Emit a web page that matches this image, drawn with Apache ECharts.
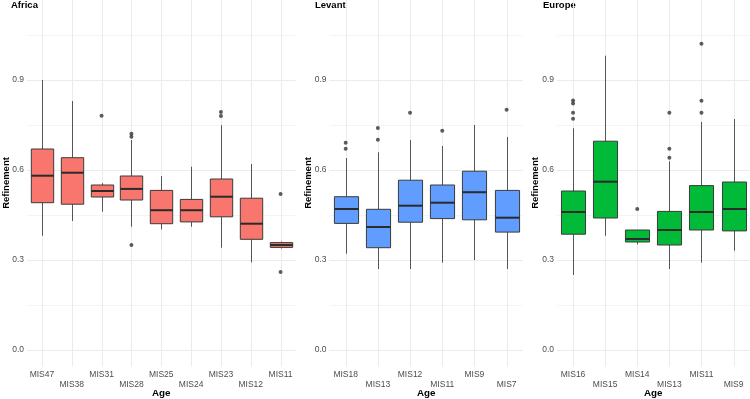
<!DOCTYPE html>
<html>
<head>
<meta charset="utf-8">
<script src="https://cdn.jsdelivr.net/npm/echarts@6/dist/echarts.min.js"></script>
<style>
  html, body { margin: 0; padding: 0; background: #fff; }
  #chart { width: 750px; height: 399px; }
</style>
</head>
<body>
<div id="chart"></div>
<script>
// values: [lower whisker, Q1, median, Q3, upper whisker]
const africaAges = ['MIS47', 'MIS38', 'MIS31', 'MIS28', 'MIS25', 'MIS24', 'MIS23', 'MIS12', 'MIS11'];
const africaBoxes = [
  [0.381, 0.491, 0.581, 0.670, 0.900],
  [0.430, 0.486, 0.591, 0.641, 0.830],
  [0.461, 0.510, 0.530, 0.550, 0.556],
  [0.411, 0.500, 0.537, 0.580, 0.700],
  [0.402, 0.421, 0.466, 0.532, 0.580],
  [0.411, 0.427, 0.466, 0.502, 0.611],
  [0.341, 0.444, 0.511, 0.570, 0.749],
  [0.292, 0.369, 0.421, 0.506, 0.620],
  [0.338, 0.342, 0.350, 0.358, 0.362]
];
const africaOutliers = [[2, 0.781], [3, 0.721], [3, 0.711], [3, 0.350], [6, 0.793], [6, 0.780], [8, 0.520], [8, 0.260]];

const levantAges = ['MIS18', 'MIS13', 'MIS12', 'MIS11', 'MIS9', 'MIS7'];
const levantBoxes = [
  [0.321, 0.422, 0.470, 0.511, 0.640],
  [0.270, 0.341, 0.410, 0.469, 0.659],
  [0.270, 0.426, 0.481, 0.566, 0.700],
  [0.291, 0.438, 0.491, 0.550, 0.680],
  [0.300, 0.434, 0.526, 0.596, 0.750],
  [0.270, 0.393, 0.441, 0.532, 0.710]
];
const levantOutliers = [[0, 0.691], [0, 0.671], [1, 0.740], [1, 0.701], [2, 0.791], [3, 0.731], [5, 0.801]];

const europeAges = ['MIS16', 'MIS15', 'MIS14', 'MIS13', 'MIS11', 'MIS9'];
const europeBoxes = [
  [0.250, 0.386, 0.460, 0.530, 0.739],
  [0.381, 0.440, 0.561, 0.696, 0.981],
  [0.352, 0.360, 0.370, 0.400, 0.400],
  [0.270, 0.350, 0.400, 0.462, 0.629],
  [0.291, 0.400, 0.460, 0.548, 0.760],
  [0.331, 0.397, 0.470, 0.560, 0.770]
];
const europeOutliers = [[0, 0.832], [0, 0.822], [0, 0.791], [0, 0.771], [2, 0.470], [3, 0.791], [3, 0.671], [3, 0.641], [4, 1.021], [4, 0.831], [4, 0.791]];

const yTicks = [0, 0.3, 0.6, 0.9];
const yMinorTicks = [0.15, 0.45, 0.75, 1.05];

(function () {
  const Y_MIN = -0.055;
  const Y_MAX = 1.1667;
  const FONT = '"Liberation Sans", Arial, Helvetica, sans-serif';
  const GRID_COLOR = '#ebebeb';
  const MINOR_COLOR = '#f4f4f4';

  const panels = [
    { name: 'Africa', ages: africaAges, boxes: africaBoxes, outliers: africaOutliers, color: '#F8766D', left: 27, width: 268.5, titleX: 11, yNameX: 6.5 },
    { name: 'Levant', ages: levantAges, boxes: levantBoxes, outliers: levantOutliers, color: '#619CFF', left: 329.6, width: 193.1, titleX: 315, yNameX: 308 },
    { name: 'Europe', ages: europeAges, boxes: europeBoxes, outliers: europeOutliers, color: '#00BA38', left: 557, width: 192.6, titleX: 543, yNameX: 535 }
  ];

  const chart = echarts.init(document.getElementById('chart'));

  // panel grid: one vertical line per category, plus the horizontal lines drawn once
  function renderGridLines(params, api) {
    const top = api.coord([api.value(0), Y_MAX]);
    const bottom = api.coord([api.value(0), Y_MIN]);
    const x = Math.round(top[0]) + 0.5;
    const children = [{
      type: 'line',
      shape: { x1: x, y1: top[1], x2: x, y2: bottom[1] },
      style: { stroke: GRID_COLOR, lineWidth: 1 }
    }];
    if (params.dataIndex === 0) {
      const cs = params.coordSys;
      yMinorTicks.forEach(function (v) {
        const y = Math.round(api.coord([0, v])[1]) + 0.5;
        children.unshift({ type: 'line', shape: { x1: cs.x, y1: y, x2: cs.x + cs.width, y2: y }, style: { stroke: MINOR_COLOR, lineWidth: 1 } });
      });
      yTicks.forEach(function (v) {
        const y = Math.round(api.coord([0, v])[1]) + 0.5;
        children.unshift({ type: 'line', shape: { x1: cs.x, y1: y, x2: cs.x + cs.width, y2: y }, style: { stroke: GRID_COLOR, lineWidth: 1 } });
      });
    }
    return { type: 'group', children: children };
  }

  function renderBox(color) {
    return function (params, api) {
      const i = api.value(0);
      const w = api.size([1, 0])[0] * 0.75;
      const lo = api.coord([i, api.value(1)]);
      const q1 = api.coord([i, api.value(2)]);
      const md = api.coord([i, api.value(3)]);
      const q3 = api.coord([i, api.value(4)]);
      const hi = api.coord([i, api.value(5)]);
      const cx = Math.round(lo[0]) + 0.5;
      const whisker = { stroke: '#555555', lineWidth: 1 };
      return {
        type: 'group',
        children: [
          { type: 'line', shape: { x1: cx, y1: hi[1], x2: cx, y2: q3[1] }, style: whisker },
          { type: 'line', shape: { x1: cx, y1: q1[1], x2: cx, y2: lo[1] }, style: whisker },
          {
            type: 'rect',
            shape: { x: cx - w / 2, y: q3[1], width: w, height: q1[1] - q3[1] },
            style: { fill: color, stroke: '#3a3a3a', lineWidth: 1 }
          },
          { type: 'line', shape: { x1: cx - w / 2, y1: md[1], x2: cx + w / 2, y2: md[1] }, style: { stroke: '#2b2b2b', lineWidth: 2 } }
        ]
      };
    };
  }

  const grids = [];
  const xAxes = [];
  const yAxes = [];
  const series = [];
  const graphics = [];

  panels.forEach(function (p, k) {
    grids.push({ left: p.left, width: p.width, top: 0, height: 366.5, containLabel: false });
    xAxes.push({
      type: 'category',
      gridIndex: k,
      data: p.ages,
      axisLine: { show: false },
      axisTick: { show: false },
      splitLine: { show: false },
      axisLabel: {
        interval: 0,
        margin: 3,
        color: '#4d4d4d',
        fontSize: 8.5,
        lineHeight: 10,
        fontFamily: FONT,
        formatter: function (v, idx) { return idx % 2 ? '\n' + v : v; }
      }
    });
    yAxes.push({
      type: 'value',
      gridIndex: k,
      min: Y_MIN,
      max: Y_MAX,
      axisLine: { show: false },
      axisTick: { show: false },
      splitLine: { show: false },
      axisLabel: {
        customValues: yTicks,
        margin: 3,
        color: '#4d4d4d',
        fontSize: 8.5,
        fontFamily: FONT,
        formatter: function (v) { return v.toFixed(1); }
      }
    });

    series.push({
      type: 'custom',
      xAxisIndex: k,
      yAxisIndex: k,
      silent: true,
      z: 1,
      data: p.ages.map(function (a, i) { return [i]; }),
      renderItem: renderGridLines
    });
    series.push({
      type: 'custom',
      name: p.name,
      xAxisIndex: k,
      yAxisIndex: k,
      z: 2,
      encode: { x: 0, y: [1, 2, 3, 4, 5] },
      data: p.boxes.map(function (b, i) { return [i].concat(b); }),
      renderItem: renderBox(p.color)
    });
    series.push({
      type: 'scatter',
      xAxisIndex: k,
      yAxisIndex: k,
      z: 3,
      symbolSize: 4,
      itemStyle: { color: '#333333' },
      data: p.outliers
    });

    graphics.push({
      type: 'text',
      x: p.titleX,
      y: 5,
      style: { text: p.name, font: 'bold 9.5px ' + FONT, fill: '#000', textAlign: 'left', textVerticalAlign: 'middle' }
    });
    graphics.push({
      type: 'text',
      x: p.yNameX,
      y: 183,
      rotation: Math.PI / 2,
      style: { text: 'Refinement', font: 'bold 9.5px ' + FONT, fill: '#000', textAlign: 'center', textVerticalAlign: 'middle' }
    });
    graphics.push({
      type: 'text',
      x: p.left + p.width / 2,
      y: 393,
      style: { text: 'Age', font: 'bold 9.8px ' + FONT, fill: '#000', textAlign: 'center', textVerticalAlign: 'middle' }
    });
  });

  chart.setOption({
    animation: false,
    backgroundColor: '#ffffff',
    grid: grids,
    xAxis: xAxes,
    yAxis: yAxes,
    series: series,
    graphic: graphics
  });
})();
</script>
</body>
</html>
